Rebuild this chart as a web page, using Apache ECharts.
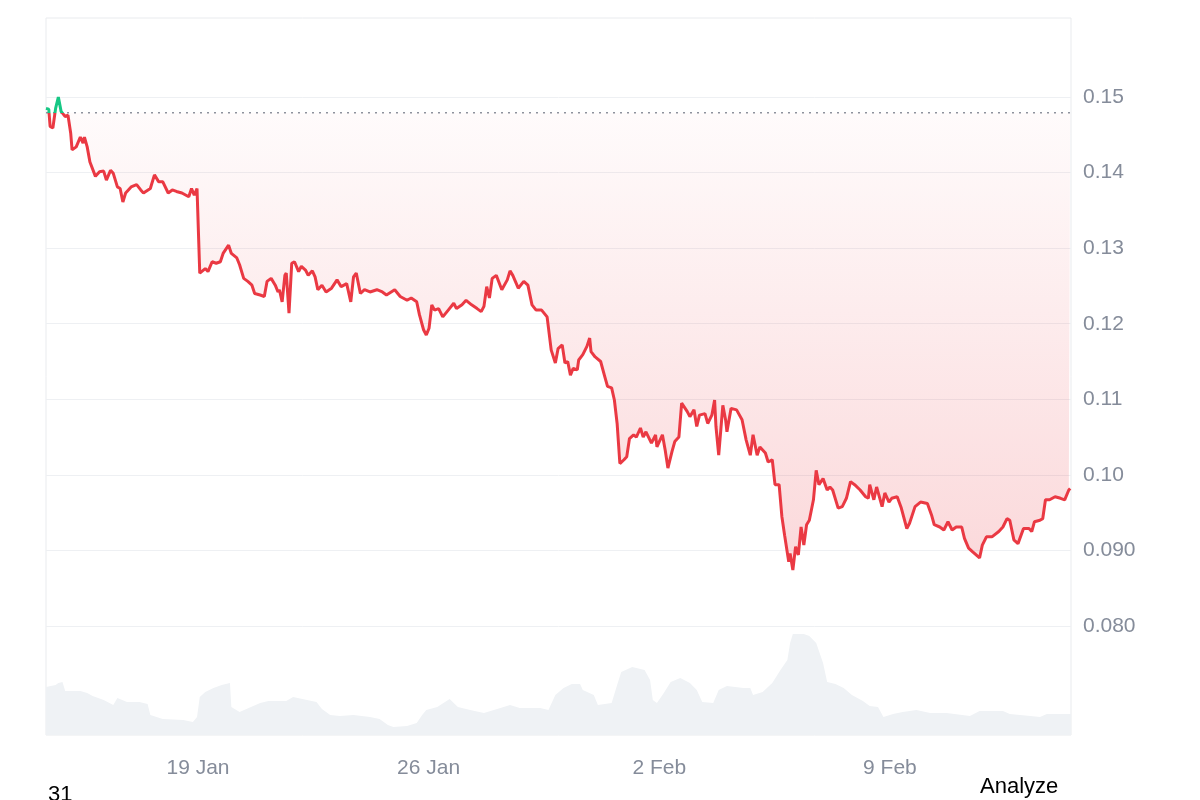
<!DOCTYPE html>
<html><head><meta charset="utf-8">
<script src="https://cdn.jsdelivr.net/npm/echarts@6/dist/echarts.min.js"></script>
<style>html,body{margin:0;padding:0;background:#fff}#c{width:1200px;height:800px}</style>
</head><body><div id="c"></div>
<script>
const startTime = '2025-01-14T09:18:00';
const spanHours = 746.6;
const baselinePrice = 0.1479;

const priceHours = [0,2,3,5,7,9,11,14,16,18,
19,22,25,27,28,30,32,33,36,39,
42,44,47,49,52,54,56,58,62,66,
69,71,76,79,82,85,89,92,95,99,
104,106,108,110,112,113,116,118,121,124,
127,129,130,133,135,139,141,144,147,150,
152,156,159,161,164,167,169,170,172,174,
175,177,179,181,184,186,189,191,194,196,
198,201,204,208,212,215,219,222,224,226,
229,232,236,241,245,248,254,258,263,266,
270,272,275,277,279,281,283,286,289,293,
297,299,303,306,310,314,317,319,321,323,
325,328,332,336,338,340,344,348,351,354,
357,361,365,366,368,369,371,373,376,378,
380,382,384,387,388,391,394,396,397,400,
404,407,409,412,414,416,418,421,423,425,
428,430,433,435,437,441,444,445,449,451,
453,456,458,461,463,467,469,472,474,476,
480,482,485,487,488,490,493,495,496,499,
503,507,510,513,515,518,520,524,526,529,
531,534,536,538,541,542,544,546,548,550,
552,554,556,559,561,563,566,569,571,573,
577,580,583,586,589,593,597,599,600,603,
605,609,611,614,616,620,623,627,629,633,
637,642,645,647,651,654,657,660,663,667,
669,672,675,680,682,685,689,694,697,700,
702,705,708,712,716,718,720,724,726,728,
731,735,739,742,745,746];

const prices = [0.1485,0.1484,0.1461,0.1459,0.1485,0.1500,0.1481,0.1474,0.1476,0.1452,
0.1430,0.1434,0.1447,0.1439,0.1447,0.1434,0.1414,0.1412,0.1395,0.1401,
0.1402,0.1390,0.1403,0.1399,0.1381,0.1379,0.1361,0.1373,0.1381,0.1384,
0.1377,0.1373,0.1379,0.1397,0.1388,0.1388,0.1373,0.1377,0.1375,0.1373,
0.1368,0.1379,0.1370,0.1379,0.1267,0.1269,0.1273,0.1269,0.1282,0.1280,
0.1282,0.1293,0.1291,0.1304,0.1293,0.1287,0.1278,0.1260,0.1256,0.1251,
0.1240,0.1238,0.1236,0.1256,0.1260,0.1251,0.1242,0.1245,0.1229,0.1264,
0.1267,0.1214,0.1280,0.1282,0.1269,0.1276,0.1271,0.1264,0.1270,0.1262,
0.1245,0.1251,0.1242,0.1247,0.1258,0.1249,0.1253,0.1229,0.1262,0.1267,
0.1240,0.1245,0.1242,0.1245,0.1242,0.1238,0.1245,0.1236,0.1231,0.1234,
0.1229,0.1212,0.1192,0.1185,0.1194,0.1225,0.1218,0.1220,0.1209,0.1218,
0.1227,0.1220,0.1225,0.1231,0.1225,0.1220,0.1216,0.1223,0.1249,0.1234,
0.1260,0.1264,0.1245,0.1258,0.1270,0.1264,0.1247,0.1256,0.1251,0.1225,
0.1218,0.1218,0.1209,0.1207,0.1165,0.1167,0.1148,0.1167,0.1172,0.1148,
0.1150,0.1132,0.1141,0.1139,0.1152,0.1159,0.1170,0.1181,0.1163,0.1156,
0.1150,0.1130,0.1117,0.1115,0.1099,0.1068,0.1015,0.1020,0.1024,0.1048,
0.1053,0.1050,0.1062,0.1050,0.1057,0.1042,0.1053,0.1037,0.1053,0.1033,
0.1009,0.1031,0.1044,0.1050,0.1095,0.1084,0.1077,0.1086,0.1064,0.1079,
0.1081,0.1068,0.1079,0.1099,0.1064,0.1026,0.1092,0.1073,0.1057,0.1088,
0.1086,0.1073,0.1046,0.1026,0.1053,0.1026,0.1037,0.1029,0.1017,0.1020,
0.0987,0.0987,0.0945,0.0920,0.0885,0.0896,0.0874,0.0905,0.0894,0.0931,
0.0907,0.0934,0.0940,0.0967,0.1006,0.0987,0.0995,0.0980,0.0984,0.0980,
0.0956,0.0958,0.0969,0.0991,0.0987,0.0980,0.0971,0.0969,0.0987,0.0967,
0.0984,0.0958,0.0976,0.0964,0.0969,0.0971,0.0956,0.0929,0.0936,0.0958,
0.0964,0.0962,0.0947,0.0934,0.0931,0.0927,0.0938,0.0927,0.0931,0.0931,
0.0916,0.0903,0.0898,0.0890,0.0907,0.0918,0.0918,0.0925,0.0931,0.0942,
0.0940,0.0914,0.0909,0.0929,0.0929,0.0925,0.0938,0.0940,0.0942,0.0967,
0.0967,0.0971,0.0969,0.0967,0.0980,0.0982];

const volHours = [0,7,9,12,14,25,30,34,42,49,52,59,68,74,76,85,100,107,110,112,116,122,128,134,135,141,151,156,162,175,180,197,201,207,214,224,236,243,249,253,263,270,274,277,285,294,300,309,319,331,338,345,360,366,371,377,383,389,391,399,402,412,416,419,427,436,440,442,445,450,455,462,469,474,478,486,490,496,508,513,515,522,529,535,540,542,544,552,556,561,566,569,575,581,587,595,600,606,610,617,624,634,644,656,673,680,697,702,717,724,729,742,747];
const volumes = [48,50,52,53,44,44,42,39,35,30,37,33,33,31,20,16,15,13,18,38,43,47,50,52,28,23,29,32,34,34,38,33,26,20,19,20,18,16,10,8,9,12,20,25,28,36,28,25,22,27,30,27,27,25,40,47,51,51,45,40,30,32,50,63,68,65,55,35,32,42,53,57,52,45,33,32,45,49,47,47,40,43,52,65,75,92,101,101,99,92,72,53,51,47,40,34,29,28,18,21,23,25,22,22,19,24,24,21,19,18,21,21,21];

const yTickLabels = ['0.080','0.090','0.10','0.11','0.12','0.13','0.14','0.15'];
const xTickDates = ['2025-01-19T00:00:00','2025-01-26T00:00:00','2025-02-02T00:00:00','2025-02-09T00:00:00'];
const xTickLabels = ['19 Jan','26 Jan','2 Feb','9 Feb'];

const H = 3600e3;
const t0 = new Date(startTime).getTime();
// x positions are hours elapsed since startTime
const priceData = priceHours.map((h, i) => [h, prices[i]]);
const volData = volHours.map((h, i) => [h, volumes[i]]);
const baselineData = [[0, baselinePrice], [spanHours, baselinePrice]];
const xTicks = xTickDates.map(d => (new Date(d).getTime() - t0) / H);

const FONT = '"Liberation Sans", Arial, Helvetica, sans-serif';
const LABEL = '#858c9a';

const chart = echarts.init(document.getElementById('c'), null, {renderer: 'canvas'});
chart.setOption({
  animation: false,
  backgroundColor: '#fff',
  grid: [
    {left: 46, right: 129, top: 97, height: 529},
    {left: 46, right: 129, top: 627, height: 108},
    {left: 46, right: 129, top: 18, height: 717, show: true, borderColor: '#e9ebee', borderWidth: 1, backgroundColor: 'transparent'}
  ],
  xAxis: [
    {gridIndex: 0, type: 'value', min: 0, max: spanHours, show: false},
    {gridIndex: 1, type: 'value', min: 0, max: spanHours,
      axisLine: {show: false}, axisTick: {show: false}, splitLine: {show: false},
      axisLabel: {
        customValues: xTicks,
        formatter: function (v) {
          for (let i = 0; i < xTicks.length; i++) if (Math.abs(xTicks[i] - v) < 0.5) return xTickLabels[i];
          return '';
        },
        color: LABEL, fontSize: 21, fontFamily: FONT, margin: 23
      }},
    {gridIndex: 2, type: 'value', min: 0, max: 1, show: false}
  ],
  yAxis: [
    {gridIndex: 0, type: 'value', position: 'right', min: 0.08, max: 0.15, interval: 0.01,
      axisLine: {show: false}, axisTick: {show: false},
      splitLine: {lineStyle: {color: '#eef0f3', width: 1}},
      axisLabel: {
        formatter: function (v) { const i = Math.round(v * 100) - 8; return yTickLabels[i] || ''; },
        color: LABEL, fontSize: 21, fontFamily: FONT, margin: 12
      }},
    {gridIndex: 1, type: 'value', min: 0, max: 108, show: false},
    {gridIndex: 2, type: 'value', min: 0, max: 1, show: false}
  ],
  visualMap: {
    show: false, type: 'piecewise', seriesIndex: 0, dimension: 1,
    pieces: [
      {gte: baselinePrice, lte: 1, color: '#16c784'},
      {gte: 0, lt: baselinePrice, color: '#ea3943'}
    ],
    outOfRange: {color: '#ea3943'}
  },
  series: [
    {
      type: 'line', xAxisIndex: 0, yAxisIndex: 0, data: priceData,
      symbol: 'none', showSymbol: false, clip: false, z: 3,
      lineStyle: {width: 3},
      areaStyle: {
        origin: baselinePrice,
        color: {type: 'linear', x: 0, y: 0, x2: 0, y2: 1, colorStops: [
          {offset: 0, color: 'rgba(234,57,67,0.02)'},
          {offset: 1, color: 'rgba(234,57,67,0.28)'}
        ]}
      }
    },
    {
      type: 'line', xAxisIndex: 0, yAxisIndex: 0, data: baselineData,
      symbol: 'none', showSymbol: false, silent: true, z: 2,
      lineStyle: {type: [2, 5], color: '#8d939e', width: 1.5}
    },
    {
      type: 'line', xAxisIndex: 1, yAxisIndex: 1, data: volData,
      symbol: 'none', showSymbol: false, z: 1,
      lineStyle: {width: 0, opacity: 0},
      areaStyle: {color: '#eff2f5', opacity: 1}
    }
  ],
  graphic: [
    {type: 'text', left: 48, top: 784, style: {text: '31', font: '22px ' + FONT, fill: '#000'}},
    {type: 'text', left: 980, top: 776, style: {text: 'Analyze', font: '22px ' + FONT, fill: '#000'}}
  ]
});
</script>
</body></html>
